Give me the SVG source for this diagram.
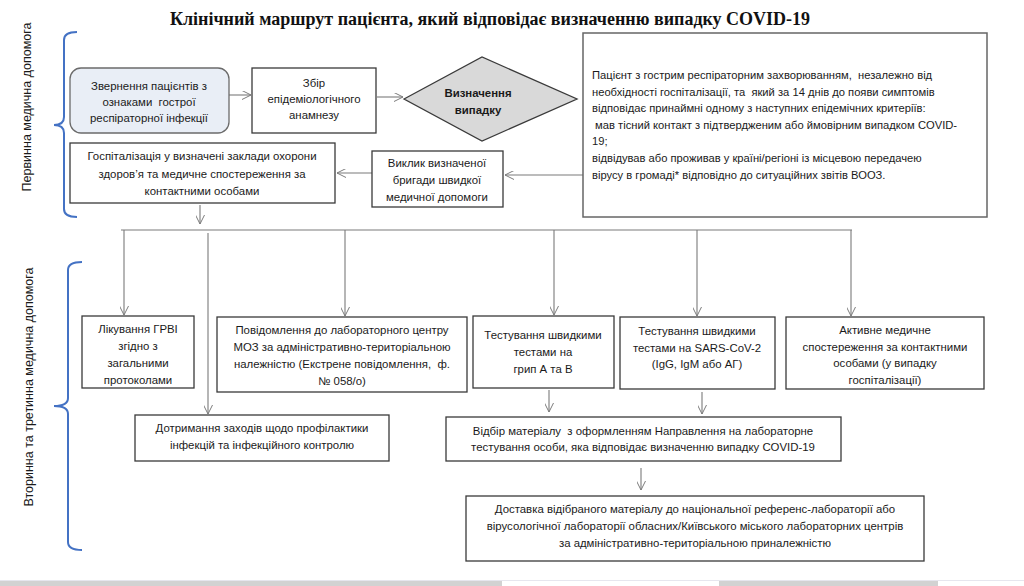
<svg xmlns="http://www.w3.org/2000/svg" width="1024" height="586" viewBox="0 0 1024 586">
<style>
.t{font-family:"Liberation Sans",Arial,sans-serif;font-size:11.4px;fill:#1a1a1a;white-space:pre}
.k{font-size:11.2px}
.c{text-anchor:middle}
.b{font-weight:bold}
.box{fill:#fff;stroke:#3a3a3a;stroke-width:1.3}
.big{fill:#fff;stroke:#666;stroke-width:1.5}
.con{fill:none;stroke:#7a7a7a;stroke-width:1.1}
.br{fill:none;stroke:#4472c4;stroke-width:2}
.side{font-family:"Liberation Sans",Arial,sans-serif;font-size:12.5px;fill:#1a1a1a;text-anchor:middle}
</style>
<defs>
<marker id="ah" viewBox="0 0 10 10" refX="10" refY="5" markerWidth="9" markerHeight="9" markerUnits="userSpaceOnUse" orient="auto">
<path d="M0,0 L10,5 L0,10" fill="none" stroke="#7a7a7a" stroke-width="1.1"/>
</marker>
</defs>
<rect width="1024" height="586" fill="#fff"/>
<text x="490" y="25" font-family="Liberation Serif,Times New Roman,serif" font-size="18" font-weight="bold" text-anchor="middle" fill="#111">Клінічний маршрут пацієнта, який відповідає визначенню випадку COVID-19</text>

<g id="braces">
<path class="br" d="M77,32 Q64,32 64,40 L64,117 Q64,125 54,125 Q64,125 64,133 L64,209 Q64,217 77,217"/>
<path class="br" d="M82,262 Q68,262 68,270 L68,398 Q68,406 54,406 Q68,406 68,414 L68,542 Q68,550 82,550"/>
<text class="side" transform="translate(31,107) rotate(-90)">Первинна медична допомога</text>
<text class="side" transform="translate(33,387) rotate(-90)">Вторинна та третинна медична допомога</text>
</g>

<g id="connectors">
<line class="con" x1="229" y1="95" x2="251" y2="95" marker-end="url(#ah)"/>
<line class="con" x1="377" y1="97" x2="403" y2="97" marker-end="url(#ah)"/>
<line class="con" x1="583" y1="175" x2="505" y2="175" marker-end="url(#ah)"/>
<line class="con" x1="372" y1="173" x2="337" y2="173" marker-end="url(#ah)"/>
<line class="con" x1="200" y1="205" x2="200" y2="224" marker-end="url(#ah)"/>
<line class="con" x1="121" y1="230" x2="852" y2="230"/>
<line class="con" x1="124" y1="230" x2="124" y2="315" marker-end="url(#ah)"/>
<line class="con" x1="208" y1="233" x2="208" y2="414" marker-end="url(#ah)"/>
<line class="con" x1="345" y1="230" x2="345" y2="316" marker-end="url(#ah)"/>
<line class="con" x1="554" y1="230" x2="554" y2="315" marker-end="url(#ah)"/>
<line class="con" x1="697" y1="230" x2="697" y2="316" marker-end="url(#ah)"/>
<line class="con" x1="851" y1="230" x2="851" y2="316" marker-end="url(#ah)"/>
<line class="con" x1="549" y1="390" x2="549" y2="412" marker-end="url(#ah)"/>
<line class="con" x1="702" y1="392" x2="702" y2="414" marker-end="url(#ah)"/>
<line class="con" x1="641" y1="468" x2="641" y2="490" marker-end="url(#ah)"/>
</g>

<g id="n-zvernennia">
<rect x="70" y="68" width="159" height="65" rx="11" fill="#e9eef6" stroke="#6b6b6b" stroke-width="1.3"/>
<text class="t c" x="149" y="90">Звернення пацієнтів з</text>
<text class="t c" x="149" y="106">ознаками  гострої</text>
<text class="t c" x="149" y="122">респіраторної інфекції</text>
</g>

<g id="n-zbir">
<rect class="box" x="252" y="68" width="124" height="65"/>
<text class="t c" x="314" y="87">Збір</text>
<text class="t c" x="314" y="103">епідеміологічного</text>
<text class="t c" x="314" y="119">анамнезу</text>
</g>

<g id="n-vyznachennia">
<polygon points="404,99 482,57 577,99 482,141" fill="#d9d9d9" stroke="#3a3a3a" stroke-width="1.3"/>
<text class="t c b" x="478" y="97">Визначення</text>
<text class="t c b" x="478" y="114">випадку</text>
</g>

<g id="n-kryterii">
<rect class="big" x="583" y="33" width="404" height="184"/>
<text class="t k" x="592" y="79">Пацієнт з гострим респіраторним захворюванням,  незалежно від</text>
<text class="t k" x="592" y="96">необхідності госпіталізації, та  який за 14 днів до появи симптомів</text>
<text class="t k" x="592" y="112">відповідає принаймні одному з наступних епідемічних критеріїв:</text>
<text class="t k" x="592" y="129"> мав тісний контакт з підтвердженим або ймовірним випадком COVID-</text>
<text class="t k" x="592" y="145">19;</text>
<text class="t k" x="592" y="162">відвідував або проживав у країні/регіоні із місцевою передачею</text>
<text class="t k" x="592" y="179">вірусу в громаді* відповідно до ситуаційних звітів ВООЗ.</text>
</g>

<g id="n-vyklyk">
<rect class="box" x="372" y="151" width="131" height="56"/>
<text class="t c" x="437" y="167">Виклик визначеної</text>
<text class="t c" x="437" y="184">бригади швидкої</text>
<text class="t c" x="437" y="201">медичної допомоги</text>
</g>

<g id="n-hospitalizatsiia">
<rect class="box" x="70" y="143" width="265" height="60"/>
<text class="t c" x="202" y="160">Госпіталізація у визначені заклади охорони</text>
<text class="t c" x="202" y="178">здоров’я та медичне спостереження за</text>
<text class="t c" x="202" y="195">контактними особами</text>
</g>

<g id="n-likuvannia">
<rect class="box" x="82" y="316" width="112" height="72"/>
<text class="t c" x="138" y="333">Лікування ГРВІ</text>
<text class="t c" x="138" y="350">згідно з</text>
<text class="t c" x="138" y="367">загальними</text>
<text class="t c" x="138" y="384">протоколами</text>
</g>

<g id="n-povidomlennia">
<rect class="box" x="217" y="317" width="250" height="75"/>
<text class="t c" x="342" y="334">Повідомлення до лабораторного центру</text>
<text class="t c" x="342" y="351">МОЗ за адміністративно-територіальною</text>
<text class="t c" x="342" y="368">належністю (Екстрене повідомлення,  ф.</text>
<text class="t c" x="342" y="385">№ 058/о)</text>
</g>

<g id="n-hryp">
<rect class="box" x="473" y="316" width="141" height="72"/>
<text class="t c" x="543" y="339">Тестування швидкими</text>
<text class="t c" x="543" y="356">тестами на</text>
<text class="t c" x="543" y="373">грип А та В</text>
</g>

<g id="n-sars">
<rect class="box" x="620" y="317" width="155" height="72"/>
<text class="t c" x="697" y="335">Тестування швидкими</text>
<text class="t c" x="697" y="352">тестами на SARS-CoV-2</text>
<text class="t c" x="697" y="368">(IgG, IgM або АГ)</text>
</g>

<g id="n-aktyvne">
<rect class="box" x="786" y="317" width="198" height="72"/>
<text class="t c" x="885" y="334">Активне медичне</text>
<text class="t c" x="885" y="351">спостереження за контактними</text>
<text class="t c" x="885" y="367">особами (у випадку</text>
<text class="t c" x="885" y="384">госпіталізації)</text>
</g>

<g id="n-dotrymannia">
<rect class="box" x="135" y="415" width="254" height="46"/>
<text class="t c" x="262" y="432">Дотримання заходів щодо профілактики</text>
<text class="t c" x="262" y="449">інфекцій та інфекційного контролю</text>
</g>

<g id="n-vidbir">
<rect class="box" x="446" y="417" width="395" height="44"/>
<text class="t c" x="643" y="435">Відбір матеріалу  з оформленням Направлення на лабораторне</text>
<text class="t c" x="643" y="451">тестування особи, яка відповідає визначенню випадку COVID-19</text>
</g>

<g id="n-dostavka">
<rect class="box" x="466" y="496" width="458" height="65"/>
<text class="t c" x="695" y="513">Доставка відібраного матеріалу до національної референс-лабораторії або</text>
<text class="t c" x="695" y="530">вірусологічної лабораторії обласних/Київського міського лабораторних центрів</text>
<text class="t c" x="695" y="547">за адміністративно-територіальною приналежністю</text>
</g>

<g id="scrollbar">
<rect x="0" y="580" width="1024" height="1" fill="#e6e6ee"/>
<rect x="0" y="581" width="502" height="5" fill="#d2d2d2"/>
<rect x="719" y="581" width="219" height="5" fill="#d2d2d2"/>
</g>
</svg>
